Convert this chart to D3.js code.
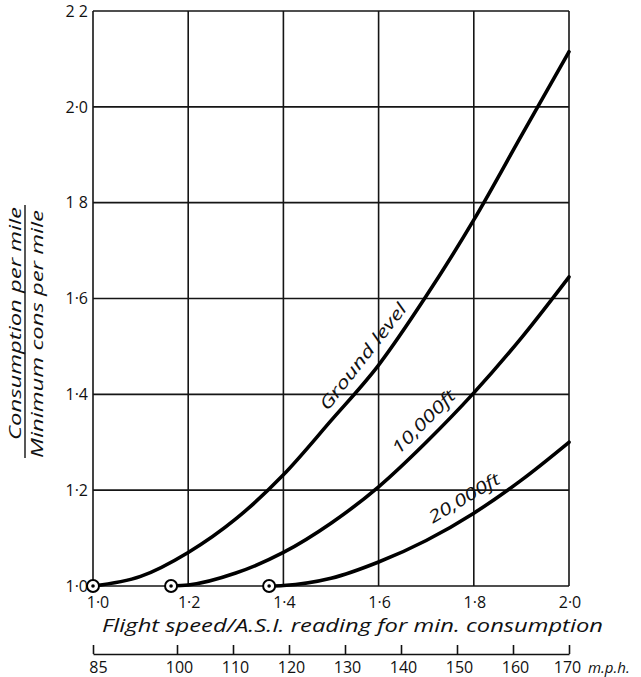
<!DOCTYPE html>
<html>
<head>
<meta charset="utf-8">
<script src="https://cdn.jsdelivr.net/npm/d3@7"></script>
<style>
	body { margin: 0; background: #fff; }
	svg { display: block; }
	text { fill: #111; }
</style>
</head>
<body>
<svg id="chart" width="641" height="677"></svg>
<script>
"use strict";

/* global d3 */

// speed ratio (flight speed / A.S.I. for min consumption) and consumption ratio
var groundRatio = [1.0, 1.1, 1.2, 1.3, 1.4, 1.5, 1.6, 1.7, 1.8, 1.9, 2.0];
var groundCons = [1.0, 1.02, 1.07, 1.14, 1.232, 1.345, 1.461, 1.605, 1.764, 1.94, 2.115];

var ft10kRatio = [1.164, 1.2, 1.3, 1.4, 1.5, 1.6, 1.7, 1.8, 1.9, 2.0];
var ft10kCons = [1.0, 1.002, 1.027, 1.07, 1.131, 1.207, 1.3, 1.403, 1.518, 1.645];

var ft20kRatio = [1.37, 1.4, 1.5, 1.6, 1.7, 1.8, 1.9, 2.0];
var ft20kCons = [1.0, 1.001, 1.016, 1.05, 1.095, 1.152, 1.221, 1.30];

// minimum consumption points (circled)
var minRatio = [1.0, 1.164, 1.37];

var ratioTicks = [1.0, 1.2, 1.4, 1.6, 1.8, 2.0];
var ratioTickLabels = ["1·0", "1·2", "1·4", "1·6", "1·8", "2·0"];
var consTicks = [1.0, 1.2, 1.4, 1.6, 1.8, 2.0, 2.2];
var consTickLabels = ["1·0", "1·2", "1·4", "1·6", "1 8", "2·0", "2 2"];
var mphTicks = [85, 100, 110, 120, 130, 140, 150, 160, 170];

var seriesNames = ["Ground level", "10,000ft", "20,000ft"];

(function() {
	var svg = d3.select("#chart");
	var numFont = "'Open Sans', 'DejaVu Sans', sans-serif";

	var x = d3.scaleLinear().domain([1.0, 2.0]).range([93, 569]);
	var y = d3.scaleLinear().domain([1.0, 2.2]).range([586, 11]);
	var mph = d3.scaleLinear().domain([85, 170]).range([93, 569]);

	// grid + frame
	var grid = svg.append("g")
		.attr("stroke", "#151515")
		.attr("stroke-width", 1.6);
	grid.selectAll("line.v")
		.data(ratioTicks)
		.enter().append("line")
		.attr("class", "v")
		.attr("x1", function(d) { return x(d); })
		.attr("x2", function(d) { return x(d); })
		.attr("y1", y(2.2))
		.attr("y2", y(1.0));
	grid.selectAll("line.h")
		.data(consTicks)
		.enter().append("line")
		.attr("class", "h")
		.attr("x1", x(1.0))
		.attr("x2", x(2.0))
		.attr("y1", function(d) { return y(d); })
		.attr("y2", function(d) { return y(d); });

	// y tick labels
	svg.append("g").selectAll("text")
		.data(consTicks)
		.enter().append("text")
		.attr("x", 88)
		.attr("y", function(d) { return y(d); })
		.attr("dy", "0.36em")
		.attr("text-anchor", "end")
		.style("font-family", numFont)
		.style("font-size", "16px")
		.text(function(d, i) { return consTickLabels[i]; });

	// x tick labels (speed ratio)
	svg.append("g").selectAll("text")
		.data(ratioTicks)
		.enter().append("text")
		.attr("x", function(d) { return x(d) + (d === 1.0 ? 5 : 1); })
		.attr("y", 608)
		.attr("text-anchor", "middle")
		.style("font-family", numFont)
		.style("font-size", "16px")
		.text(function(d, i) { return ratioTickLabels[i]; });

	// curves
	var line = d3.line()
		.x(function(d) { return x(d[0]); })
		.y(function(d) { return y(d[1]); })
		.curve(d3.curveMonotoneX);

	var series = [
		d3.zip(groundRatio, groundCons),
		d3.zip(ft10kRatio, ft10kCons),
		d3.zip(ft20kRatio, ft20kCons)
	];

	svg.append("g").selectAll("path")
		.data(series)
		.enter().append("path")
		.attr("d", line)
		.attr("fill", "none")
		.attr("stroke", "#000")
		.attr("stroke-width", 3.6)
		.attr("stroke-linecap", "round");

	// circled minimum points
	var mins = svg.append("g").selectAll("g")
		.data(minRatio)
		.enter().append("g")
		.attr("transform", function(d) { return "translate(" + x(d) + "," + y(1.0) + ")"; });
	mins.append("circle")
		.attr("r", 6)
		.attr("fill", "#fff")
		.attr("stroke", "#000")
		.attr("stroke-width", 2);
	mins.append("circle")
		.attr("r", 1.8)
		.attr("fill", "#000");

	// curve labels, sitting just above each curve
	var labelPos = [
		{ r: 1.577, c: 1.471, angle: -52, len: 130 },
		{ r: 1.703, c: 1.334, angle: -45, len: 82 },
		{ r: 1.786, c: 1.173, angle: -31, len: 80 }
	];
	svg.append("g").selectAll("text")
		.data(labelPos)
		.enter().append("text")
		.attr("transform", function(d) {
			return "translate(" + x(d.r) + "," + y(d.c) + ") rotate(" + d.angle + ")";
		})
		.attr("text-anchor", "middle")
		.attr("textLength", function(d) { return d.len; })
		.attr("lengthAdjust", "spacingAndGlyphs")
		.style("font-family", numFont)
		.style("font-style", "italic")
		.style("font-size", "17px")
		.text(function(d, i) { return seriesNames[i]; });

	// x axis title
	svg.append("text")
		.attr("x", 102)
		.attr("y", 632)
		.attr("textLength", 501)
		.attr("lengthAdjust", "spacingAndGlyphs")
		.style("font-family", numFont)
		.style("font-style", "italic")
		.style("font-size", "19px")
		.text("Flight speed/A.S.I. reading for min. consumption");

	// mph axis, ticks pointing up
	var mphAxis = d3.axisBottom(mph)
		.tickValues(mphTicks)
		.tickSize(-9)
		.tickSizeOuter(0)
		.tickFormat(d3.format("d"));
	var gm = svg.append("g")
		.attr("transform", "translate(0,654)")
		.call(mphAxis);
	gm.select(".domain").attr("stroke", "#111").attr("stroke-width", 1.6);
	gm.selectAll(".tick line").attr("stroke", "#111").attr("stroke-width", 1.6);
	gm.selectAll(".tick text")
		.attr("fill", "#111")
		.attr("y", 19)
		.attr("dy", 0)
		.attr("dx", function(d) { return d === 85 ? 5 : d === 170 ? -2 : 2; })
		.style("font-family", numFont)
		.style("font-size", "16px");

	svg.append("text")
		.attr("x", 588)
		.attr("y", 673)
		.style("font-family", numFont)
		.style("font-style", "italic")
		.style("font-size", "15px")
		.text("m.p.h.");

	// y axis title, written as a fraction
	var yl = svg.append("g").attr("transform", "rotate(-90)");
	yl.append("text")
		.attr("x", -440)
		.attr("y", 21)
		.attr("textLength", 233)
		.attr("lengthAdjust", "spacingAndGlyphs")
		.style("font-family", numFont)
		.style("font-style", "italic")
		.style("font-size", "16px")
		.text("Consumption per mile");
	yl.append("text")
		.attr("x", -458)
		.attr("y", 43)
		.attr("textLength", 248)
		.attr("lengthAdjust", "spacingAndGlyphs")
		.style("font-family", numFont)
		.style("font-style", "italic")
		.style("font-size", "16px")
		.text("Minimum cons per mile");
	svg.append("line")
		.attr("x1", 25).attr("x2", 25)
		.attr("y1", 205).attr("y2", 458)
		.attr("stroke", "#111")
		.attr("stroke-width", 1.4);
}());
</script>
</body>
</html>
